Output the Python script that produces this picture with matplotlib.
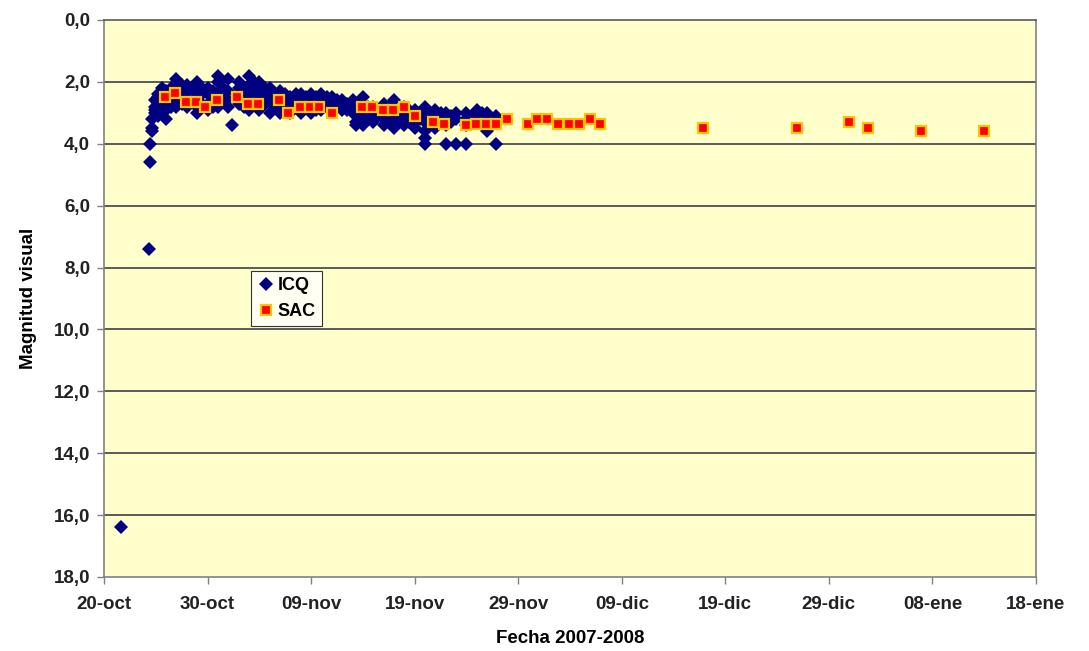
import pandas as pd
import matplotlib
matplotlib.use("Agg")
import matplotlib.pyplot as plt
from matplotlib.ticker import FuncFormatter

plt.rcParams['font.family'] = ['Liberation Sans', 'DejaVu Sans']

start = pd.Timestamp("2007-10-20")

# ICQ observations: day offset from 20-oct and magnitudes read that day
icq_days = [1.6, 4.3, 4.4, 4.6, 4.9, 5.2, 5.6, 6.0, 6.5, 7.0, 7.5, 8.0, 8.5, 9.0, 9.5,
            10.0, 10.5, 11.0, 11.5, 12.0, 12.4, 13.0, 13.5, 14.0, 14.5, 15.0, 15.5,
            16.0, 16.5, 17.0, 17.5, 18.0, 18.5, 19.0, 19.5, 20.0, 20.5, 21.0, 21.5,
            22.0, 22.5, 23.0, 23.5, 24.0, 24.3, 24.7, 25.0, 25.5, 26.0, 26.5, 27.0,
            27.5, 28.0, 28.5, 29.0, 29.5, 30.0, 30.5, 31.0, 31.5, 32.0, 32.5, 33.0,
            33.5, 34.0, 35.0, 35.5, 36.0, 36.5, 37.0, 37.9]
icq_mags = [[16.4], [7.4], [4.6, 4.0], [3.5, 3.6, 3.2], [2.6, 2.8, 3.0, 2.9],
            [2.4, 2.5, 2.7, 3.1, 2.9], [2.2, 2.4, 2.6, 2.8, 3.0], [2.3, 2.5, 2.7, 2.9, 3.2],
            [2.2, 2.4, 2.6, 2.8], [1.9, 2.2, 2.4, 2.6, 2.8], [2.1, 2.3, 2.5, 2.7],
            [2.1, 2.3, 2.5, 2.7, 2.8], [2.2, 2.4, 2.6], [2.0, 2.3, 2.6, 2.8, 3.0],
            [2.2, 2.4, 2.7], [2.2, 2.4, 2.7, 2.9], [2.3, 2.6, 2.8],
            [1.8, 2.0, 2.4, 2.5, 2.8], [2.2, 2.4, 2.6], [1.9, 2.3, 2.6, 2.8], [3.4],
            [2.0, 2.2, 2.5, 2.7], [2.3, 2.5, 2.8], [1.8, 2.1, 2.4, 2.7, 2.9],
            [2.0, 2.3, 2.5], [2.0, 2.3, 2.6, 2.9], [2.2, 2.5, 2.7], [2.2, 2.4, 2.6, 3.0],
            [2.5, 2.8], [2.3, 2.6, 2.8, 3.0], [2.4, 2.7], [2.5, 2.7, 2.9, 3.0],
            [2.4, 2.6, 2.8], [2.4, 2.6, 2.8, 3.0], [2.5, 2.7], [2.4, 2.6, 2.8, 3.0],
            [2.5, 2.7, 2.9], [2.4, 2.6, 2.9], [2.5, 2.8], [2.5, 2.7, 2.9], [2.6, 2.8],
            [2.6, 2.8, 2.9], [2.7, 2.9], [2.6, 2.8, 3.0], [3.4, 3.3], [2.7, 3.1],
            [2.5, 2.9, 3.1, 3.4], [2.8, 3.0, 3.2], [2.8, 3.0, 3.2, 3.3], [2.9, 3.1],
            [2.7, 3.0, 3.2, 3.4], [2.8, 3.1, 3.3], [2.6, 2.9, 3.1, 3.3, 3.5], [3.0, 3.3],
            [2.8, 3.0, 3.2, 3.4], [2.9, 3.1, 3.3], [2.9, 3.1, 3.3, 3.5], [3.0, 3.2],
            [2.8, 3.0, 3.3, 3.6, 4.0, 3.8], [3.1, 3.4], [2.9, 3.1, 3.3, 3.5], [3.0, 3.2],
            [3.0, 3.2, 3.4, 4.0], [3.1, 3.3], [3.0, 3.2, 4.0], [3.0, 3.2, 3.4, 4.0],
            [3.1, 3.3], [2.9, 3.1, 3.3], [3.0, 3.2], [3.0, 3.2, 3.6], [3.1, 3.3, 4.0]]

# SAC observations
sac_days = [5.9, 6.9, 7.9, 8.9, 9.8, 10.9, 12.8, 13.9, 14.9, 16.9, 17.8, 18.9, 19.9,
            20.8, 22.0, 24.9, 25.9, 26.9, 27.9, 29.0, 30.0, 31.8, 32.8, 35.0, 35.9,
            36.9, 37.9, 38.9, 40.9, 41.8, 42.8, 43.8, 44.9, 45.9, 46.9, 47.9, 57.8,
            66.9, 71.9, 73.8, 78.9, 85.0]
sac_mags = [2.5, 2.35, 2.65, 2.65, 2.8, 2.6, 2.5, 2.7, 2.7, 2.6, 3.0, 2.8, 2.8,
            2.8, 3.0, 2.8, 2.8, 2.9, 2.9, 2.8, 3.1, 3.3, 3.35, 3.4, 3.35,
            3.35, 3.35, 3.2, 3.35, 3.2, 3.2, 3.35, 3.35, 3.35, 3.2, 3.35, 3.5,
            3.5, 3.3, 3.5, 3.6, 3.6]

tick_labels = ["20-oct", "30-oct", "09-nov", "19-nov", "29-nov",
               "09-dic", "19-dic", "29-dic", "08-ene", "18-ene"]

icq_x, icq_y = [], []
for d, mags in zip(icq_days, icq_mags):
    for m in mags:
        icq_x.append(start + pd.Timedelta(days=d))
        icq_y.append(m)
sac_x = [start + pd.Timedelta(days=d) for d in sac_days]

fig = plt.figure(figsize=(10.89, 6.51), dpi=100)
ax = fig.add_axes([0.0955, 0.1137, 0.8558, 0.8556])
ax.set_facecolor('#FFFFCC')

for v in range(2, 18, 2):
    ax.axhline(v, color='#5a5a5a', lw=1.4, zorder=1)

ax.plot(icq_x, icq_y, linestyle='none', marker='D', markersize=6.8,
        color='#000080', markeredgewidth=0, label='ICQ', zorder=3)
ax.plot(sac_x, sac_mags, linestyle='none', marker='s', markersize=7.6,
        markerfacecolor='#FF0000', markeredgecolor='#FFC400', markeredgewidth=1.6,
        label='SAC', zorder=4)

ax.set_ylim(18, 0)
ax.set_yticks(range(0, 19, 2))
ax.yaxis.set_major_formatter(FuncFormatter(lambda v, p: f"{v:.1f}".replace('.', ',')))

ticks = [start + pd.Timedelta(days=10 * i) for i in range(len(tick_labels))]
ax.set_xlim(ticks[0], ticks[-1])
ax.set_xticks(ticks)
ax.set_xticklabels(tick_labels)

for s in ax.spines.values():
    s.set_color('#808080')
    s.set_linewidth(1.2)
ax.spines['top'].set_color('#5a5a5a')

ax.tick_params(axis='both', direction='out', length=5, width=1, color='#808080',
               labelsize=13.5, labelcolor='#222222')
ax.tick_params(axis='x', pad=9)
ax.tick_params(axis='y', pad=5)
for lbl in ax.get_xticklabels() + ax.get_yticklabels():
    lbl.set_fontweight('bold')

ax.set_ylabel('Magnitud visual', fontsize=13.5, fontweight='bold', labelpad=12)
ax.set_xlabel('Fecha 2007-2008', fontsize=13.5, fontweight='bold', labelpad=12)

leg = ax.legend(loc='upper left', bbox_to_anchor=(0.158, 0.55), borderaxespad=0,
                frameon=True, fancybox=False, prop={'weight': 'bold', 'size': 13},
                handletextpad=0.2, handlelength=0.9, borderpad=0.35, labelspacing=0.5)
leg.get_frame().set_edgecolor('#000000')
leg.get_frame().set_linewidth(0.8)

fig.savefig('out.png', dpi=100)
